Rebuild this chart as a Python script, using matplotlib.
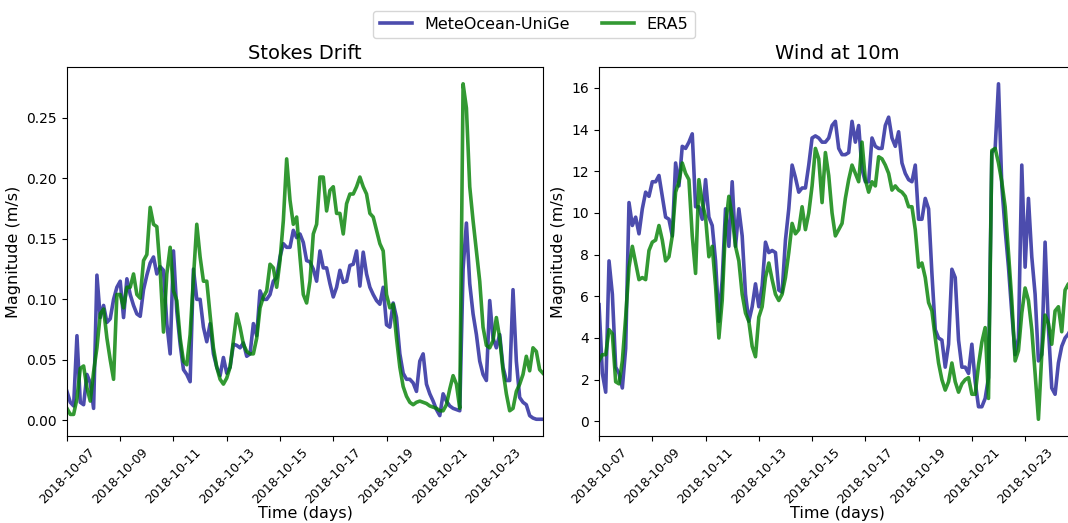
import matplotlib
matplotlib.use("Agg")
import matplotlib.pyplot as plt
import matplotlib.dates as mdates
import pandas as pd

# 3-hourly time axis, 2018-10-07 00:00 -> 2018-10-24 21:00
times = pd.date_range("2018-10-07 00:00", periods=144, freq="3h")

stokes_meteo = [
    0.024, 0.015, 0.012, 0.070, 0.015, 0.013, 0.038, 0.031, 0.010, 0.120,
    0.085, 0.095, 0.081, 0.084, 0.100, 0.110, 0.115, 0.085, 0.117, 0.104,
    0.095, 0.088, 0.086, 0.108, 0.120, 0.130, 0.135, 0.121, 0.127, 0.124,
    0.080, 0.055, 0.140, 0.090, 0.063, 0.042, 0.038, 0.032, 0.125, 0.100,
    0.100, 0.077, 0.065, 0.080, 0.055, 0.044, 0.037, 0.052, 0.039, 0.044,
    0.063, 0.062, 0.060, 0.064, 0.053, 0.055, 0.080, 0.070, 0.107, 0.100,
    0.100, 0.104, 0.115, 0.118, 0.135, 0.146, 0.143, 0.143, 0.157, 0.151,
    0.154, 0.147, 0.132, 0.131, 0.125, 0.115, 0.140, 0.126, 0.126, 0.113,
    0.102, 0.110, 0.124, 0.114, 0.115, 0.128, 0.129, 0.140, 0.111, 0.139,
    0.121, 0.110, 0.104, 0.099, 0.096, 0.110, 0.079, 0.077, 0.097, 0.085,
    0.055, 0.039, 0.034, 0.034, 0.031, 0.024, 0.049, 0.055, 0.030, 0.022,
    0.016, 0.009, 0.004, 0.022, 0.016, 0.012, 0.010, 0.009, 0.008, 0.125,
    0.163, 0.113, 0.088, 0.071, 0.049, 0.038, 0.033, 0.099, 0.068, 0.060,
    0.071, 0.044, 0.033, 0.033, 0.108, 0.049, 0.019, 0.015, 0.013, 0.004,
    0.002, 0.001, 0.001, 0.001,
]

stokes_era5 = [
    0.010, 0.005, 0.005, 0.018, 0.043, 0.045, 0.027, 0.016, 0.040, 0.060,
    0.088, 0.092, 0.068, 0.050, 0.034, 0.104, 0.104, 0.093, 0.110, 0.110,
    0.121, 0.104, 0.101, 0.132, 0.137, 0.176, 0.162, 0.160, 0.124, 0.073,
    0.121, 0.143, 0.107, 0.099, 0.068, 0.049, 0.046, 0.071, 0.118, 0.162,
    0.135, 0.115, 0.115, 0.087, 0.060, 0.044, 0.034, 0.030, 0.035, 0.044,
    0.066, 0.088, 0.077, 0.063, 0.057, 0.055, 0.055, 0.068, 0.093, 0.102,
    0.107, 0.129, 0.126, 0.110, 0.132, 0.165, 0.216, 0.182, 0.162, 0.168,
    0.135, 0.104, 0.097, 0.115, 0.154, 0.162, 0.201, 0.201, 0.173, 0.190,
    0.193, 0.171, 0.171, 0.154, 0.179, 0.187, 0.187, 0.193, 0.201, 0.193,
    0.187, 0.171, 0.168, 0.157, 0.146, 0.140, 0.104, 0.093, 0.096, 0.068,
    0.044, 0.028, 0.020, 0.015, 0.013, 0.015, 0.016, 0.015, 0.014, 0.012,
    0.011, 0.010, 0.008, 0.008, 0.013, 0.026, 0.037, 0.030, 0.010, 0.278,
    0.258, 0.193, 0.165, 0.140, 0.115, 0.077, 0.062, 0.060, 0.066, 0.085,
    0.068, 0.041, 0.022, 0.008, 0.010, 0.024, 0.030, 0.038, 0.053, 0.041,
    0.060, 0.057, 0.042, 0.039,
]

wind_meteo = [
    5.6, 2.3, 1.4, 7.7, 6.1, 2.6, 2.3, 1.6, 3.5, 10.5,
    9.4, 9.8, 9.0, 10.2, 11.0, 10.8, 11.5, 11.5, 11.8, 10.8,
    9.8, 9.7, 8.9, 12.4, 11.3, 13.2, 13.1, 13.4, 13.8, 10.3,
    10.3, 9.7, 11.6, 9.8, 9.4, 7.7, 4.8, 6.8, 10.2, 8.4,
    11.5, 8.4, 10.2, 8.9, 6.1, 4.8, 5.5, 6.6, 5.5, 6.5,
    8.6, 8.1, 8.2, 8.1, 6.3, 6.2, 8.7, 10.2, 12.3, 11.7,
    11.0, 11.2, 11.2, 12.3, 13.6, 13.7, 13.6, 13.4, 13.4, 13.6,
    14.2, 14.4, 13.1, 12.8, 12.8, 12.9, 14.4, 13.4, 14.2, 12.1,
    11.5, 11.5, 13.6, 13.2, 13.1, 13.1, 14.2, 14.6, 13.6, 13.2,
    13.9, 12.4, 11.9, 11.6, 11.5, 12.3, 9.7, 9.7, 10.7, 10.2,
    7.1, 4.4, 4.0, 3.9, 2.6, 3.7, 7.3, 6.9, 3.9, 2.6,
    2.6, 2.3, 3.7, 1.9, 0.7, 0.7, 1.1, 2.1, 12.9, 13.1,
    16.2, 11.3, 9.2, 7.4, 5.2, 3.2, 4.0, 12.3, 7.4, 10.7,
    7.9, 6.1, 2.9, 3.2, 8.6, 4.5, 1.6, 1.3, 2.8, 3.6,
    4.0, 4.2, 4.5, 4.8,
]

wind_era5 = [
    2.9, 3.2, 3.2, 4.4, 4.2, 1.9, 1.8, 2.9, 5.0, 7.4,
    8.4, 7.6, 6.8, 6.9, 6.8, 8.2, 8.6, 8.7, 9.4, 8.7,
    7.7, 7.9, 8.9, 11.0, 11.5, 12.4, 11.9, 11.6, 8.9, 7.1,
    11.6, 10.5, 9.8, 7.9, 8.4, 6.5, 4.0, 5.8, 9.4, 10.8,
    9.8, 8.4, 7.7, 6.1, 5.2, 4.8, 3.6, 3.1, 5.0, 5.5,
    6.9, 7.6, 6.8, 6.1, 5.8, 6.1, 6.9, 8.1, 9.5, 9.0,
    9.2, 10.3, 9.2, 10.0, 11.3, 13.1, 12.6, 10.5, 12.9, 11.8,
    10.0, 8.9, 9.2, 9.5, 10.7, 11.6, 12.3, 11.9, 11.5, 13.4,
    11.6, 11.0, 11.5, 11.3, 12.7, 12.6, 12.3, 11.9, 11.1, 11.3,
    11.1, 11.0, 10.8, 10.3, 10.3, 9.2, 7.4, 7.6, 6.9, 5.7,
    5.3, 4.0, 2.8, 2.0, 1.5, 1.9, 2.8, 1.9, 1.4, 1.8,
    2.0, 2.1, 1.3, 1.3, 2.7, 3.8, 4.5, 1.1, 13.0, 13.1,
    12.4, 11.5, 10.3, 8.1, 5.8, 2.9, 3.4, 5.2, 6.4, 5.8,
    4.4, 2.3, 0.1, 3.2, 5.1, 4.7, 3.7, 5.3, 5.5, 4.3,
    6.3, 6.6, 6.0, 5.5,
]

tick_days = pd.date_range("2018-10-07", "2018-10-23", freq="2D")

fig = plt.figure(figsize=(10.68, 5.23), dpi=100)
ax1 = fig.add_axes([0.0627, 0.1663, 0.4457, 0.7055])
ax2 = fig.add_axes([0.5609, 0.1663, 0.4457, 0.7055])

panels = [
    (ax1, stokes_meteo, stokes_era5, "Stokes Drift", None),
    (ax2, wind_meteo, wind_era5, "Wind at 10m", list(range(0, 17, 2))),
]

for ax, meteo, era5, title, yt in panels:
    ax.plot(times, meteo, color="darkblue", alpha=0.7, lw=2.6, label="MeteOcean-UniGe")
    ax.plot(times, era5, color="green", alpha=0.8, lw=2.6, label="ERA5")
    ax.set_title(title, fontsize=14)
    ax.set_xlabel("Time (days)", fontsize=11.5, labelpad=0)
    ax.set_ylabel("Magnitude (m/s)", fontsize=11.5)
    ax.set_xlim(times[0], times[-1])
    ax.set_xticks(tick_days)
    ax.xaxis.set_major_formatter(mdates.DateFormatter("%Y-%m-%d"))
    ax.tick_params(axis="x", labelrotation=45, labelsize=9)
    ax.tick_params(axis="y", labelsize=10)
    if yt is not None:
        ax.set_yticks(yt)

handles, labels = ax1.get_legend_handles_labels()
fig.legend(handles, labels, loc="upper center", ncol=2, fontsize=11.5,
           bbox_to_anchor=(0.5, 0.995))

fig.savefig("out.png", dpi=100)
